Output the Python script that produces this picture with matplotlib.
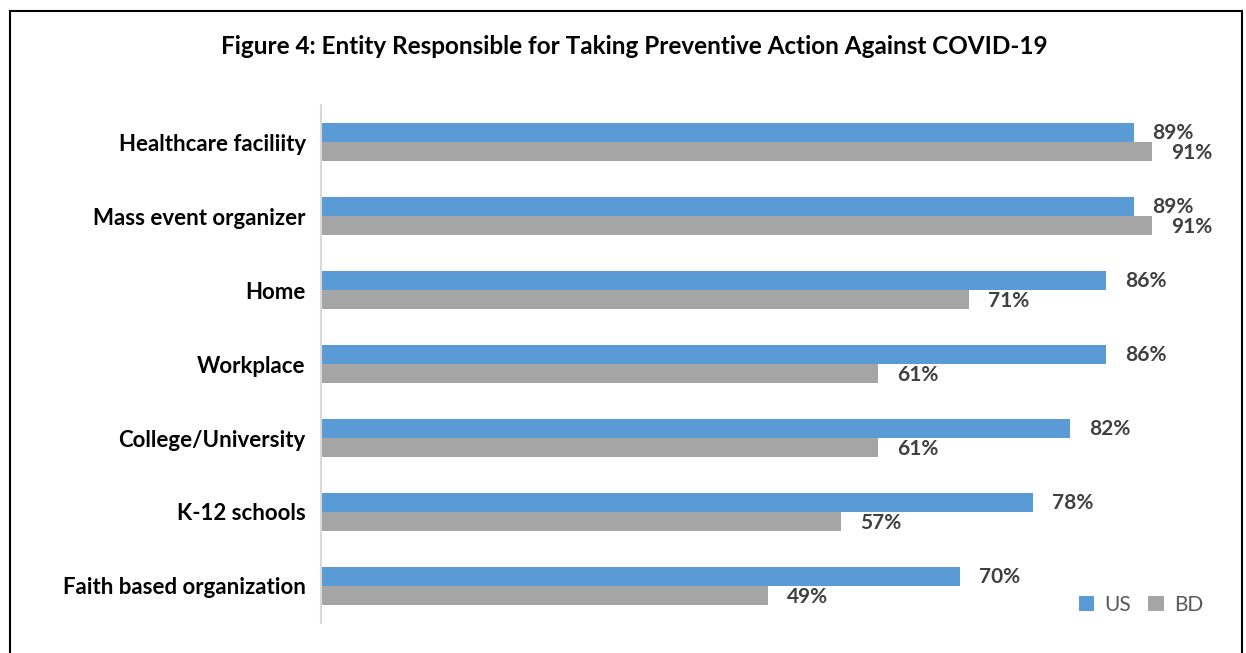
import matplotlib.pyplot as plt
from matplotlib.patches import Rectangle

# Data
categories = ['Healthcare faciliity', 'Mass event organizer', 'Home', 'Workplace',
              'College/University', 'K-12 schools', 'Faith based organization']
us = [89, 89, 86, 86, 82, 78, 70]
bd = [91, 91, 71, 61, 61, 57, 49]

blue = '#5B9BD5'
gray = '#A5A5A5'

plt.rcParams['font.family'] = ['Lato', 'DejaVu Sans']

fig = plt.figure(figsize=(12.46, 6.53), dpi=100)
W, H = 1246, 653
ax = fig.add_axes([321 / W, 1 - 623 / H, 913 / W, 518 / H])

# frame around the chart
fig.patches.append(Rectangle((9.5 / W, -0.05), (1242 - 9.5) / W, 1.05 - 11.5 / H,
                             transform=fig.transFigure, fill=False,
                             edgecolor='black', linewidth=1.5))

y = list(range(len(categories)))
h = 0.257
ax.barh([i - h / 2 for i in y], us, height=h, color=blue, label='US')
ax.barh([i + h / 2 for i in y], bd, height=h, color=gray, label='BD')

for i in y:
    ax.annotate(f'{us[i]}%', (us[i], i - h / 2), xytext=(19, -1), textcoords='offset pixels',
                va='center', ha='left', fontsize=15, fontweight='bold', color='#404040')
    ax.annotate(f'{bd[i]}%', (bd[i], i + h / 2), xytext=(19, -1), textcoords='offset pixels',
                va='center', ha='left', fontsize=15, fontweight='bold', color='#404040')

ax.set_xlim(0, 100)
ax.set_ylim(6.5, -0.5)
ax.set_yticks(y)
ax.set_yticklabels(categories, fontsize=16, fontweight='bold')
ax.tick_params(axis='y', length=0, pad=11)
ax.set_xticks([])
for s in ['top', 'right', 'bottom']:
    ax.spines[s].set_visible(False)
ax.spines['left'].set_color('#D9D9D9')
ax.spines['left'].set_linewidth(1.5)

fig.text(634 / W, 1 - 47 / H, 'Figure 4: Entity Responsible for Taking Preventive Action Against COVID-19',
         ha='center', va='center', fontsize=17.5, fontweight='bold')

leg = ax.legend(loc='center', bbox_to_anchor=(1141 / W, 1 - 605 / H), bbox_transform=fig.transFigure,
                ncol=2, frameon=False, fontsize=15, handlelength=0.75, handleheight=0.75,
                columnspacing=0.8, handletextpad=0.5, borderpad=0, borderaxespad=0)
for t in leg.get_texts():
    t.set_color('#595959')

fig.savefig('out.png', dpi=100)
